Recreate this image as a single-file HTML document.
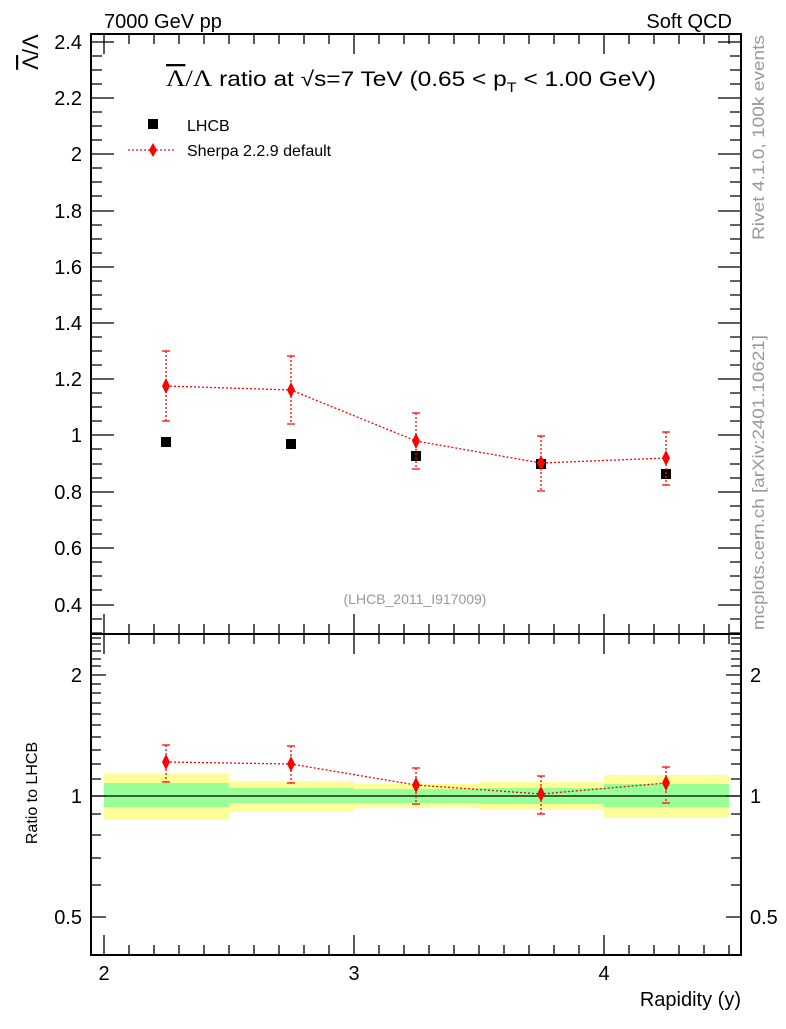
<!DOCTYPE html>
<html><head><meta charset="utf-8"><style>
html,body{margin:0;padding:0;background:#fff;}
text{font-family:"Liberation Sans","DejaVu Sans",sans-serif;}
</style></head><body>
<svg width="786" height="1024" viewBox="0 0 786 1024" xmlns="http://www.w3.org/2000/svg">
<!-- header -->
<text x="104" y="28" font-size="20">7000 GeV pp</text>
<text x="732" y="28" font-size="20" text-anchor="end">Soft QCD</text>
<text x="764" y="240" font-size="16.5" fill="#999" transform="rotate(-90 764 240)" textLength="205" lengthAdjust="spacingAndGlyphs">Rivet 4.1.0,  100k events</text>
<text x="764" y="630" font-size="16.5" fill="#999" transform="rotate(-90 764 630)" textLength="295" lengthAdjust="spacingAndGlyphs">mcplots.cern.ch [arXiv:2401.10621]</text>

<!-- ratio bands -->
<g>
<rect x="104" y="773" width="125" height="47" fill="#ffff99"/>
<rect x="104" y="783" width="125" height="24" fill="#99ff99"/>
<rect x="229" y="781" width="125" height="30" fill="#ffff99"/>
<rect x="229" y="788" width="125" height="15" fill="#99ff99"/>
<rect x="354" y="784" width="125" height="24" fill="#ffff99"/>
<rect x="354" y="789" width="125" height="14" fill="#99ff99"/>
<rect x="479" y="782" width="125" height="28" fill="#ffff99"/>
<rect x="479" y="788" width="125" height="16" fill="#99ff99"/>
<rect x="604" y="775" width="125" height="43" fill="#ffff99"/>
<rect x="604" y="784" width="125" height="23" fill="#99ff99"/>
</g>
<line x1="91" y1="796" x2="741" y2="796" stroke="#000" stroke-width="1.2"/>

<!-- frames -->
<rect x="91" y="34" width="650" height="600" fill="none" stroke="#000" stroke-width="2"/>
<rect x="91" y="634" width="650" height="321" fill="none" stroke="#000" stroke-width="2"/>

<g stroke="#000" stroke-width="1.3">
<path d="M91 42h23M91 98h23M91 154h23M91 211h23M91 267h23M91 323h23M91 379h23M91 435h23M91 492h23M91 548h23M91 605h23"/>
<path d="M741 42h-23M741 98h-23M741 154h-23M741 211h-23M741 267h-23M741 323h-23M741 379h-23M741 435h-23M741 492h-23M741 548h-23M741 605h-23"/>
<path d="M91 56h11M91 70h11M91 84h11M91 112h11M91 126h11M91 140h11M91 168h11M91 182h11M91 196h11M91 225h11M91 239h11M91 253h11M91 281h11M91 295h11M91 309h11M91 337h11M91 351h11M91 365h11M91 393h11M91 407h11M91 421h11M91 449h11M91 464h11M91 478h11M91 506h11M91 520h11M91 534h11M91 562h11M91 576h11M91 590h11M91 619h11M91 633h11"/>
<path d="M741 56h-11M741 70h-11M741 84h-11M741 112h-11M741 126h-11M741 140h-11M741 168h-11M741 182h-11M741 196h-11M741 225h-11M741 239h-11M741 253h-11M741 281h-11M741 295h-11M741 309h-11M741 337h-11M741 351h-11M741 365h-11M741 393h-11M741 407h-11M741 421h-11M741 449h-11M741 464h-11M741 478h-11M741 506h-11M741 520h-11M741 534h-11M741 562h-11M741 576h-11M741 590h-11M741 619h-11M741 633h-11"/>
<path d="M104 634v-20M354 634v-20M604 634v-20M104 34v20M354 34v20M604 34v20"/>
<path d="M129 634v-10M154 634v-10M179 634v-10M204 634v-10M229 634v-10M254 634v-10M279 634v-10M304 634v-10M329 634v-10M379 634v-10M404 634v-10M429 634v-10M454 634v-10M479 634v-10M504 634v-10M529 634v-10M554 634v-10M579 634v-10M629 634v-10M654 634v-10M679 634v-10M704 634v-10M729 634v-10"/>
<path d="M129 34v10M154 34v10M179 34v10M204 34v10M229 34v10M254 34v10M279 34v10M304 34v10M329 34v10M379 34v10M404 34v10M429 34v10M454 34v10M479 34v10M504 34v10M529 34v10M554 34v10M579 34v10M629 34v10M654 34v10M679 34v10M704 34v10M729 34v10"/>
<path d="M104 955v-20M354 955v-20M604 955v-20M104 634v20M354 634v20M604 634v20"/>
<path d="M129 955v-10M154 955v-10M179 955v-10M204 955v-10M229 955v-10M254 955v-10M279 955v-10M304 955v-10M329 955v-10M379 955v-10M404 955v-10M429 955v-10M454 955v-10M479 955v-10M504 955v-10M529 955v-10M554 955v-10M579 955v-10M629 955v-10M654 955v-10M679 955v-10M704 955v-10M729 955v-10"/>
<path d="M129 634v10M154 634v10M179 634v10M204 634v10M229 634v10M254 634v10M279 634v10M304 634v10M329 634v10M379 634v10M404 634v10M429 634v10M454 634v10M479 634v10M504 634v10M529 634v10M554 634v10M579 634v10M629 634v10M654 634v10M679 634v10M704 634v10M729 634v10"/>
<path d="M91 675h15M91 796h15M91 917h15M741 675h-15M741 796h-15M741 917h-15"/>
<path d="M91 885h10M91 858h10M91 835h10M91 814h10M91 779h10M91 764h10M91 750h10M91 737h10M91 725h10M91 714h10M91 703h10M91 693h10M91 684h10M91 666h10M91 659h10M91 651h10M91 644h10M91 638h10"/>
<path d="M741 885h-10M741 858h-10M741 835h-10M741 814h-10M741 779h-10M741 764h-10M741 750h-10M741 737h-10M741 725h-10M741 714h-10M741 703h-10M741 693h-10M741 684h-10M741 666h-10M741 659h-10M741 651h-10M741 644h-10M741 638h-10"/>
</g>

<g font-size="20" text-anchor="end">
<text x="82" y="49">2.4</text><text x="82" y="105">2.2</text><text x="82" y="161">2</text>
<text x="82" y="218">1.8</text><text x="82" y="274">1.6</text><text x="82" y="330">1.4</text>
<text x="82" y="386">1.2</text><text x="82" y="442">1</text><text x="82" y="499">0.8</text>
<text x="82" y="555">0.6</text><text x="82" y="612">0.4</text>
<text x="82" y="682">2</text><text x="82" y="803">1</text><text x="82" y="924">0.5</text>
</g>
<g font-size="20">
<text x="750" y="682">2</text><text x="750" y="803">1</text><text x="750" y="924">0.5</text>
</g>
<g font-size="20" text-anchor="middle">
<text x="104" y="980">2</text><text x="354" y="980">3</text><text x="604" y="980">4</text>
</g>
<text x="741" y="1006" font-size="20" text-anchor="end">Rapidity (y)</text>
<text x="37" y="793" font-size="16" text-anchor="middle" transform="rotate(-90 37 793)">Ratio to LHCB</text>
<text x="38" y="52" font-size="22" text-anchor="middle" font-family="Liberation Serif" transform="rotate(-90 38 52)"><tspan text-decoration="overline">Λ</tspan>/Λ</text>

<text x="166" y="86" font-size="21" textLength="490" lengthAdjust="spacingAndGlyphs"><tspan font-family="Liberation Serif" font-size="23" text-decoration="overline">Λ</tspan><tspan font-family="Liberation Serif" font-size="23">/Λ</tspan> ratio at √s=7 TeV (0.65 &lt; p<tspan font-size="14" dy="6">T</tspan><tspan dy="-6"> &lt; 1.00 GeV)</tspan></text>
<text x="415" y="604" font-size="14" fill="#999" text-anchor="middle">(LHCB_2011_I917009)</text>

<rect x="148" y="119" width="10" height="10" fill="#000"/>
<text x="187" y="131" font-size="16">LHCB</text>
<line x1="128" y1="150" x2="176" y2="150" stroke="red" stroke-width="1.3" stroke-dasharray="2,2"/>
<path d="M153 143l4 7-4 7-4-7z" fill="red"/>
<text x="187" y="156" font-size="16">Sherpa 2.2.9 default</text>

<g fill="#000">
<rect x="161" y="437" width="10" height="10"/>
<rect x="286" y="439" width="10" height="10"/>
<rect x="411" y="451" width="10" height="10"/>
<rect x="536" y="459" width="10" height="10"/>
<rect x="661" y="469" width="10" height="10"/>
</g>

<g stroke="red" stroke-width="1.3" stroke-dasharray="2,2" fill="none">
<polyline points="166,386 291,390 416,441 541,463 666,458"/>
<path d="M166 351v70M291 356v68M416 413v56M541 436v55M666 432v53"/>
</g>
<g stroke="red" stroke-width="1.3" fill="none">
<path d="M162 351h8M162 421h8M287 356h8M287 424h8M412 413h8M412 469h8M537 436h8M537 491h8M662 432h8M662 485h8"/>
</g>
<g fill="red">
<path d="M166 378l4 8-4 8-4-8z"/><path d="M291 382l4 8-4 8-4-8z"/><path d="M416 433l4 8-4 8-4-8z"/><path d="M541 455l4 8-4 8-4-8z"/><path d="M666 450l4 8-4 8-4-8z"/>
</g>

<g stroke="red" stroke-width="1.3" stroke-dasharray="2,2" fill="none">
<polyline points="166,762 291,764 416,785 541,794 666,783"/>
<path d="M166 745v37M291 746v37M416 768v36M541 776v38M666 767v36"/>
</g>
<g stroke="red" stroke-width="1.3" fill="none">
<path d="M162 745h8M162 782h8M287 746h8M287 783h8M412 768h8M412 804h8M537 776h8M537 814h8M662 767h8M662 803h8"/>
</g>
<g fill="red">
<path d="M166 754l4 8-4 8-4-8z"/><path d="M291 756l4 8-4 8-4-8z"/><path d="M416 777l4 8-4 8-4-8z"/><path d="M541 786l4 8-4 8-4-8z"/><path d="M666 775l4 8-4 8-4-8z"/>
</g>
</svg>
</body></html>
